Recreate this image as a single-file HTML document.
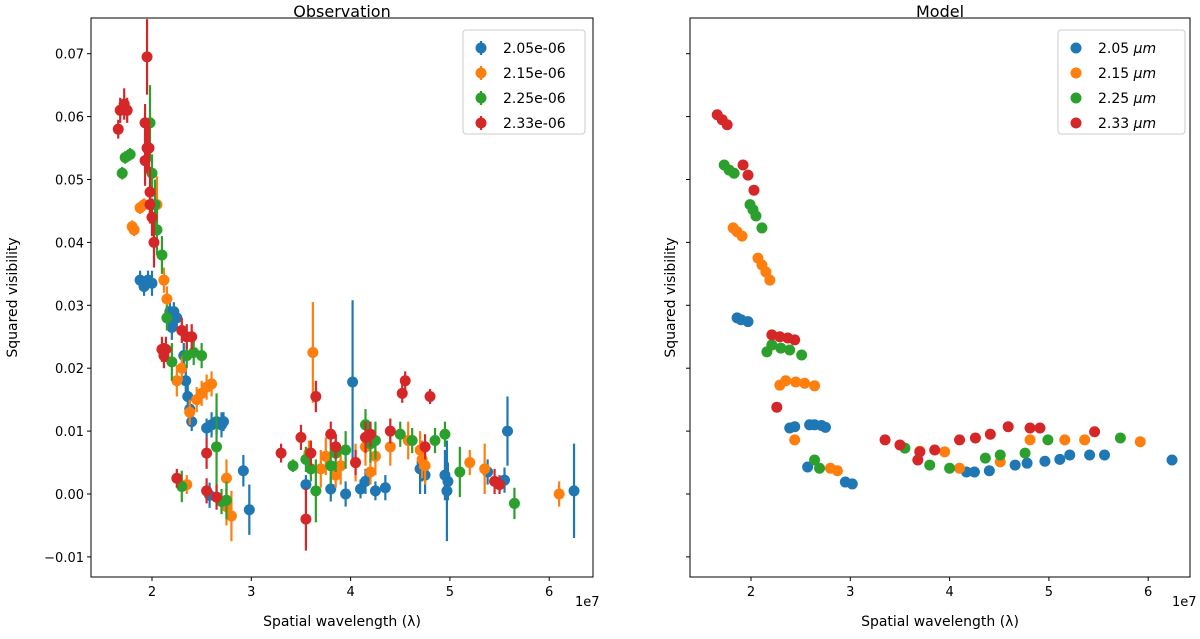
<!DOCTYPE html>
<html><head><meta charset="utf-8"><style>
body{margin:0;background:#fff}
svg{font-family:"DejaVu Sans","Liberation Sans",sans-serif}
</style></head><body>
<svg id="fig" width="1200" height="634" viewBox="0 0 1200 634">
<rect width="1200" height="634" fill="#fff"/>
</svg>
<script>
const seriesLabelsObs=["2.05e-06","2.15e-06","2.25e-06","2.33e-06"];
const seriesLabelsModel=["2.05","2.15","2.25","2.33"];
const colors=["#1f77b4","#ff7f0e","#2ca02c","#d62728"];
const xTicks=[2,3,4,5,6];
const yTicks=[-0.01,0,0.01,0.02,0.03,0.04,0.05,0.06,0.07];
const obsBlue=[[1.88,0.034,.0015],[1.92,0.033,.0015],[1.96,0.034,.0015],[2.0,0.0335,.002],[2.18,0.029,.002],[2.22,0.029,.0015],[2.25,0.028,.0015],[2.2,0.0265,.002],[2.32,0.022,.002],[2.34,0.018,.002],[2.36,0.0155,.002],[2.38,0.0135,.002],[2.4,0.0115,.0015],[2.55,0.0105,.0015],[2.6,0.011,.002],[2.65,0.0115,.002],[2.72,0.0115,.0015],[2.7,0.011,.002],[2.58,-0.0002,.002],[2.92,0.0037,.0025],[2.98,-0.0025,.004],[3.55,0.0015,.0015],[3.8,0.0008,.002],[3.95,0.0,.002],[4.02,0.0178,.013],[4.1,0.0008,.0015],[4.15,0.002,.002],[4.25,0.0005,.0015],[4.35,0.001,.002],[4.7,0.004,.004],[4.72,0.005,.003],[4.75,0.003,.003],[4.95,0.003,.004],[4.98,0.002,.003],[4.97,0.0005,.008],[5.38,0.0035,.002],[5.55,0.0022,.002],[5.58,0.01,.0055],[6.25,0.0005,.0075]];
const obsOrange=[[1.8,0.0425,.001],[1.82,0.042,.001],[1.88,0.0455,.001],[1.92,0.046,.001],[2.05,0.046,.0045],[2.12,0.034,.002],[2.15,0.031,.002],[2.25,0.018,.0025],[2.3,0.02,.002],[2.38,0.013,.002],[2.45,0.015,.002],[2.5,0.016,.002],[2.55,0.017,.002],[2.6,0.0175,.002],[2.35,0.0015,.0015],[2.75,0.0025,.003],[2.8,-0.0035,.004],[2.75,-0.002,.003],[3.58,0.0065,.002],[3.62,0.0225,.008],[3.7,0.004,.003],[3.75,0.006,.003],[3.85,0.003,.002],[3.9,0.0045,.003],[4.05,0.005,.003],[4.15,0.0075,.003],[4.2,0.0035,.002],[4.25,0.006,.003],[4.4,0.0075,.003],[4.58,0.0085,.003],[4.7,0.007,.003],[4.72,0.0055,.003],[4.75,0.0045,.003],[5.2,0.005,.002],[5.35,0.004,.004],[6.1,0.0,.002]];
const obsGreen=[[1.7,0.051,.001],[1.73,0.0535,.001],[1.78,0.054,.001],[1.98,0.059,.006],[2.0,0.051,.003],[2.03,0.046,.004],[2.05,0.042,.004],[2.1,0.038,.003],[2.15,0.028,.002],[2.2,0.021,.003],[2.35,0.022,.002],[2.42,0.0225,.002],[2.5,0.022,.002],[2.65,0.0075,.0085],[2.3,0.0012,.0025],[2.7,-0.0012,.002],[2.75,-0.001,.003],[3.42,0.0045,.001],[3.55,0.0055,.002],[3.6,0.004,.002],[3.65,0.0005,.005],[3.8,0.0045,.003],[3.85,0.0065,.003],[3.95,0.007,.003],[4.15,0.011,.0025],[4.2,0.008,.003],[4.25,0.0085,.003],[4.5,0.0095,.002],[4.62,0.0085,.002],[4.85,0.0085,.002],[4.95,0.0095,.002],[5.1,0.0035,.004],[5.65,-0.0015,.0025]];
const obsRed=[[1.66,0.058,.0015],[1.68,0.061,.002],[1.72,0.062,.0025],[1.75,0.061,.002],[1.95,0.0695,.006],[1.93,0.059,.003],[1.95,0.055,.004],[1.97,0.055,.0035],[1.93,0.053,.004],[1.98,0.048,.004],[1.98,0.046,.003],[2.02,0.040,.004],[2.0,0.044,.003],[2.1,0.023,.002],[2.12,0.022,.002],[2.14,0.023,.002],[2.3,0.026,.002],[2.35,0.025,.002],[2.4,0.025,.002],[2.25,0.0025,.0015],[2.55,0.0065,.0025],[2.55,0.0005,.002],[2.65,-0.0005,.002],[3.55,-0.004,.005],[3.65,0.0155,.0025],[3.5,0.009,.002],[3.3,0.0065,.0015],[3.6,0.0065,.002],[3.8,0.0095,.002],[3.85,0.0075,.002],[4.05,0.005,.002],[4.15,0.009,.0025],[4.2,0.0095,.002],[4.4,0.01,.002],[4.55,0.018,.0015],[4.52,0.016,.0015],[4.8,0.0155,.0012],[4.75,0.0075,.002],[5.45,0.002,.002],[5.5,0.0015,.0015]];
const modBlue=[[1.86,0.028],[1.9,0.0277],[1.97,0.0274],[2.39,0.0105],[2.44,0.0107],[2.57,0.0043],[2.59,0.011],[2.64,0.011],[2.71,0.0109],[2.75,0.0106],[2.95,0.0019],[3.02,0.0016],[4.17,0.0035],[4.25,0.0035],[4.4,0.0037],[4.66,0.0046],[4.78,0.0049],[4.96,0.0052],[5.11,0.0055],[5.21,0.0062],[5.41,0.0062],[5.56,0.0062],[6.24,0.0054]];
const modOrange=[[1.82,0.0423],[1.86,0.0417],[1.91,0.041],[2.07,0.0375],[2.11,0.0364],[2.15,0.0353],[2.19,0.034],[2.29,0.0173],[2.35,0.018],[2.45,0.0178],[2.54,0.0176],[2.64,0.0172],[2.44,0.0086],[2.8,0.0041],[2.87,0.0037],[3.7,0.0068],[3.95,0.0067],[4.1,0.0041],[4.51,0.0051],[4.81,0.0086],[5.16,0.0086],[5.36,0.0086],[5.92,0.0083]];
const modGreen=[[1.73,0.0523],[1.78,0.0515],[1.83,0.051],[1.99,0.046],[2.02,0.0452],[2.05,0.0442],[2.11,0.0423],[2.16,0.0226],[2.21,0.0237],[2.3,0.0232],[2.39,0.0229],[2.51,0.0221],[2.64,0.0054],[2.69,0.0041],[3.55,0.0073],[3.8,0.0046],[4.0,0.0041],[4.36,0.0057],[4.51,0.0062],[4.76,0.0065],[4.99,0.0086],[5.72,0.0089]];
const modRed=[[1.66,0.0603],[1.71,0.0595],[1.76,0.0587],[1.92,0.0523],[1.97,0.0507],[2.03,0.0483],[2.21,0.0253],[2.29,0.025],[2.37,0.0248],[2.44,0.0245],[2.26,0.0138],[3.35,0.0086],[3.5,0.0078],[3.7,0.0067],[3.68,0.0054],[3.85,0.007],[4.1,0.0086],[4.26,0.0089],[4.41,0.0095],[4.59,0.0107],[4.81,0.0105],[4.91,0.0105],[5.46,0.0099]];
const obsSeries=[obsBlue,obsOrange,obsGreen,obsRed];
const modSeries=[modBlue,modOrange,modGreen,modRed];

const NS="http://www.w3.org/2000/svg";
const svg=document.getElementById("fig");
function el(tag,attrs,parent,text){const e=document.createElementNS(NS,tag);for(const k in attrs)e.setAttribute(k,attrs[k]);if(text!==undefined)e.textContent=text;(parent||svg).appendChild(e);return e;}
const Y0=18,Y1=577;
function yScale(v){return 494-v/0.01*62.9;}
function makeX(x2){return v=>x2+(v-2)*99.3;}

function drawAxes(left,right,xs,showYLabels,title,name){
  const g=el("g",{});
  
  
  const t=el("text",{x:(left+right)/2,y:17,"text-anchor":"middle","font-size":16},g,title);
  
  
  xTicks.forEach(v=>{const x=xs(v);el("line",{x1:x,x2:x,y1:Y1,y2:Y1+4,stroke:"#000"},g);
    const l=el("text",{x:x,y:Y1+19,"text-anchor":"middle","font-size":13},g,String(v));
    
    });
  yTicks.forEach(v=>{const y=yScale(v);el("line",{x1:left-4,x2:left,y1:y,y2:y,stroke:"#000"},g);
    if(showYLabels){const l=el("text",{x:left-7,y:y+5,"text-anchor":"end","font-size":13},g,(v<0?"\u22120.01":v.toFixed(2)));
    
    }});
  const e=el("text",{x:right-18,y:Y1+29,"text-anchor":"start","font-size":13},g,"1e7");
  
  
  const xl=el("text",{x:(left+right)/2,y:626,"text-anchor":"middle","font-size":14},g,"Spatial wavelength (λ)");
  
  
  const yx=showYLabels?17:(left-15);
  const yl=el("text",{x:yx,y:(Y0+Y1)/2,"text-anchor":"middle","font-size":14,transform:`rotate(-90 ${yx} ${(Y0+Y1)/2})`},g,"Squared visibility");
  
  
  return g;
}
function clip(id,left,right){const d=el("defs",{});const c=el("clipPath",{id:id},d);el("rect",{x:left,y:Y0,width:right-left,height:Y1-Y0},c);}

// Left panel
const xsL=makeX(152);
clip("cl",91,593);
drawAxes(91,593,xsL,true,"Observation","observation-panel");
const gl=el("g",{"clip-path":"url(#cl)"});
obsSeries.forEach((s,i)=>{s.forEach(p=>{
  const x=xsL(p[0]),y=yScale(p[1]);
  const ln=el("line",{x1:x,x2:x,y1:yScale(p[1]-p[2]),y2:yScale(p[1]+p[2]),stroke:colors[i],"stroke-width":2.2},gl);
  
  
  const c=el("circle",{cx:x,cy:y,r:5.5,fill:colors[i]},gl);
  
  
});});
el("rect",{x:91,y:Y0,width:502,height:Y1-Y0,fill:"none",stroke:"#000","stroke-width":1});

// Right panel
const xsR=makeX(751);
clip("cr",690,1190);
drawAxes(690,1190,xsR,false,"Model","model-panel");
const gr=el("g",{"clip-path":"url(#cr)"});
modSeries.forEach((s,i)=>{s.forEach(p=>{
  const c=el("circle",{cx:xsR(p[0]),cy:yScale(p[1]),r:5.5,fill:colors[i]},gr);
  
  
});});
el("rect",{x:690,y:Y0,width:500,height:Y1-Y0,fill:"none",stroke:"#000","stroke-width":1});

// Legends
function legend(x,y,w,labels,bars,name){
  const g=el("g",{});
  
  
  el("rect",{x:x,y:y,width:w,height:104,rx:3,fill:"#fff",stroke:"#ccc"},g);
  labels.forEach((lab,i)=>{const cy=y+18+i*25;
    if(bars)el("line",{x1:x+18,x2:x+18,y1:cy-7,y2:cy+7,stroke:colors[i],"stroke-width":2.2},g);
    el("circle",{cx:x+18,cy:cy,r:5.5,fill:colors[i]},g);
    const t=el("text",{x:x+40,y:cy+5,"font-size":14},g);
    
    
    if(bars){t.textContent=lab;}else{t.textContent=lab+" ";const m=el("tspan",{"font-style":"italic"},t,"μm");}
  });
}
legend(463,30,122,seriesLabelsObs,true,"observation-legend");
legend(1058,30,127,seriesLabelsModel,false,"model-legend");
</script>
</body></html>
